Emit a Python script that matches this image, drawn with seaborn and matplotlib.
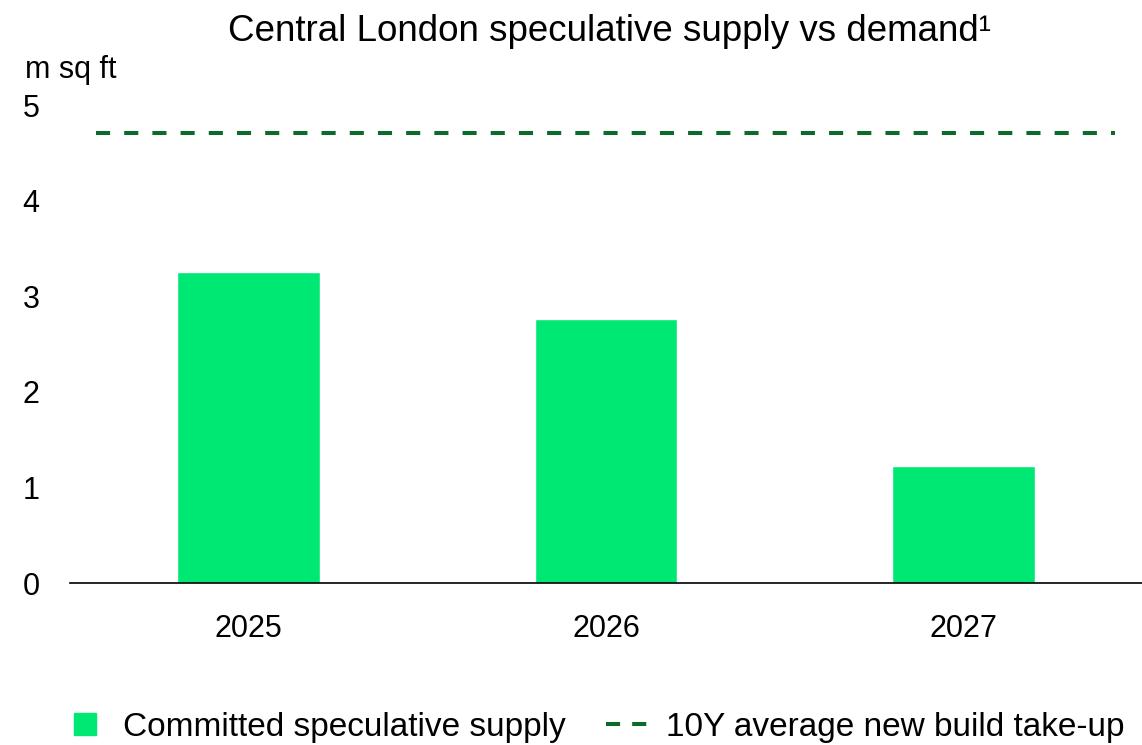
import matplotlib
matplotlib.use('Agg')
import matplotlib.pyplot as plt
from matplotlib.lines import Line2D
import pandas as pd
import seaborn as sns

years = ['2025', '2026', '2027']
supply = [3.25, 2.76, 1.22]
avg_take_up = 4.71

bar_color = '#00E874'
line_color = '#0B6B2B'

sns.set_style('white')
plt.rcParams['font.family'] = ['Liberation Sans', 'DejaVu Sans']
plt.rcParams['text.color'] = 'black'
plt.rcParams['xtick.color'] = 'black'
plt.rcParams['ytick.color'] = 'black'

df = pd.DataFrame({'Year': years, 'Supply': supply})

fig = plt.figure(figsize=(11.42, 7.45), dpi=100)
ax = fig.add_axes([0.0613, 0.2174, 0.9387, 0.6416])

sns.barplot(data=df, x='Year', y='Supply', color=bar_color, width=0.4,
            saturation=1, ax=ax)
ax.axhline(avg_take_up, xmin=0.024, xmax=0.975, color=line_color, lw=2.9,
           dashes=(3.5, 3.5))

ax.set_xlim(-0.5, 2.5)
ax.set_ylim(0, 5)
ax.set_yticks([0, 1, 2, 3, 4, 5])
ax.set_xlabel('')
ax.set_ylabel('')
for s in ['top', 'right', 'left']:
    ax.spines[s].set_visible(False)
ax.spines['bottom'].set_color('black')
ax.spines['bottom'].set_linewidth(1.2)
ax.tick_params(axis='y', length=0, pad=22, labelsize=22)
ax.tick_params(axis='x', length=0, pad=22, labelsize=22)

fig.text(0.534, 0.958, 'Central London speculative supply vs demand\u00b9',
         ha='center', va='center', fontsize=26.5)
fig.text(0.022, 0.906, 'm sq ft', ha='left', va='center', fontsize=22)

handles = [Line2D([0], [0], marker='s', markersize=16.5, linestyle='none',
                  color=bar_color),
           Line2D([0], [0], color=line_color, lw=2.9, dashes=(3.5, 3.0))]
labels = ['Committed speculative supply', '10Y average new build take-up']
fig.legend(handles, labels, loc='center', bbox_to_anchor=(0.52, 0.024),
           ncol=2, frameon=False, fontsize=24, handlelength=1.3,
           handletextpad=0.5, columnspacing=1.2)

fig.savefig('out.png', dpi=100)
